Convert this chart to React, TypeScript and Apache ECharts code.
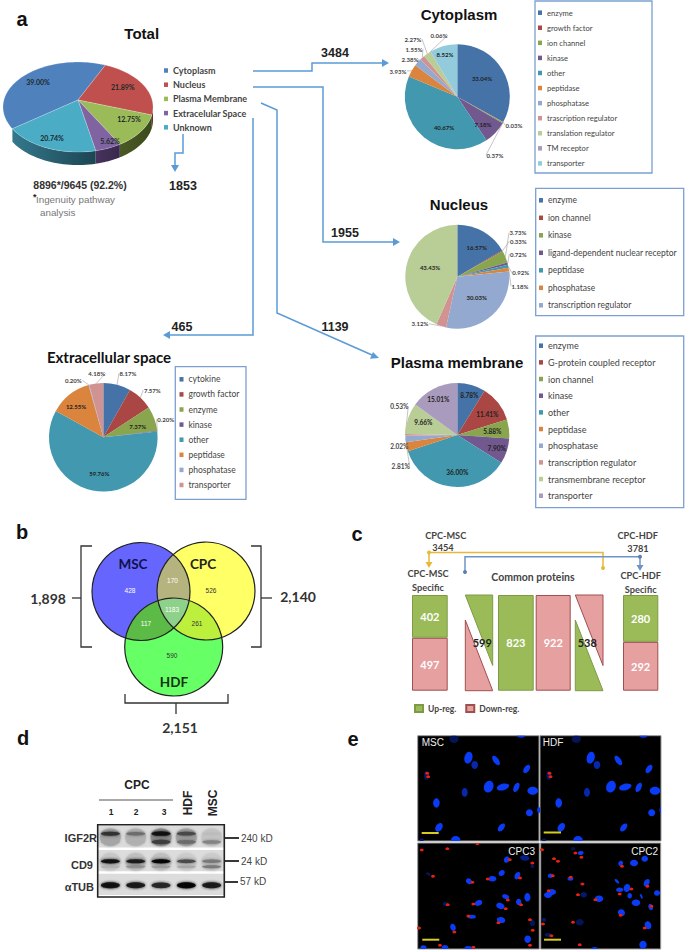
import React, { useEffect, useRef } from "react";
import * as echarts from "echarts";

// ---------- data ----------
const totalCategories = ["Cytoplasm", "Nucleus", "Plasma Membrane", "Extracelular Space", "Unknown"];
const totalValues = [39.0, 21.89, 12.75, 5.62, 20.74];

const cytoplasmNames = ["enzyme", "growth factor", "ion channel", "kinase", "other", "peptidase", "phosphatase", "trascription regulator", "translation regulator", "TM receptor", "transporter"];
const cytoplasmValues = [33.04, 0.03, 0.37, 7.18, 40.67, 3.93, 2.38, 1.55, 2.27, 0.06, 8.52];

const nucleusNames = ["enzyme", "ion channel", "kinase", "ligand-dependent nuclear receptor", "peptidase", "phosphatase", "transcription regulator"];
const nucleusExtraNames = ["unlisted A", "unlisted B"];
const nucleusValues = [16.57, 0.33, 3.73, 0.72, 0.92, 1.18, 30.03, 3.12, 43.43];

const plasmaNames = ["enzyme", "G-protein coupled receptor", "ion channel", "kinase", "other", "peptidase", "phosphatase", "transcription regulator", "transmembrane receptor", "transporter"];
const plasmaValues = [8.78, 11.41, 5.88, 7.9, 36.0, 2.81, 2.02, 0.53, 9.66, 15.01];

const extracellularNames = ["cytokine", "growth factor", "enzyme", "kinase", "other", "peptidase", "phosphatase", "transporter"];
const extracellularValues = [8.17, 7.57, 7.37, 0.2, 59.76, 12.55, 0.2, 4.18];

const vennCounts = { msc: 428, cpc: 526, hdf: 590, mscCpc: 170, mscHdf: 117, cpcHdf: 261, all: 1183 };
const vennTotals = ["1,898", "2,140", "2,151"];

const specificMsc = { up: 402, down: 497 };
const specificHdf = { up: 280, down: 292 };
const commonBars = { up: 823, down: 922 };
const commonMixed = [599, 538];

const blotLanes = ["1", "2", "3", "HDF", "MSC"];
const igf2rUpper = [0.8, 0.55, 0.95, 0.7, 0.2];
const igf2rLower = [0.3, 0.25, 0.75, 0.55, 0.45];
const cd9Main = [0.95, 0.9, 1, 0.7, 0.5];
const cd9Lower = [0.25, 0.4, 0.35, 0.3, 0.5];
const tubulin = [0.95, 0.9, 0.85, 1, 0.9];
const igf2rSmear = [0.32, 0.26, 0.42, 0.34, 0.18];
const cd9Smear = [0.16, 0.2, 0.2, 0.14, 0.14];

const nucleiControl = [
  [36.3, 3.3, 4.7, 4, 0, 0.4], [103.3, 0, 4, 2, 0, 1], [50.7, 22, 4, 6, 15, 1], [57, 29.3, 3.3, 4, 0, 0.8],
  [78.3, 24.7, 2.7, 5.5, -35, 1], [109, 33.3, 2.7, 4.7, 35, 1], [9, 39.7, 2.7, 4.3, 0, 0.45], [71, 51, 4.7, 6, 20, 1],
  [85.3, 51.3, 3.3, 6.3, 75, 1], [98.7, 51.7, 2.7, 5, 25, 1], [115, 55, 5.3, 4, 0, 1], [47, 56.7, 3, 4.3, 0, 0.8],
  [18.7, 67.3, 3.3, 4.7, 0, 1], [111.7, 77, 3.5, 3.5, 0, 1], [121, 74.3, 1.5, 3.3, 0, 1], [21.3, 91.7, 3.3, 4.7, 35, 1],
  [83.7, 91.7, 2.7, 4.7, 40, 1], [38, 104.3, 4.7, 4, 0, 1], [4, 104.3, 2, 1.5, 0, 0.5],
];
const redControl = [[9.5, 37.5], [10.5, 41]];
const nucleiCpc3 = [
  [89, 16.7, 2.7, 3.3, 30, 1], [107, 15, 4.7, 2.7, 10, 0.6], [114.7, 23.3, 2, 2, 0, 0.4], [84, 30, 3.3, 2.7, -35, 1],
  [99.7, 32.7, 2.7, 4, 25, 1], [74.7, 35.7, 4, 2.7, 0, 1], [51.3, 38.3, 3.3, 2.7, 40, 0.9], [10.7, 31, 2.7, 1.3, 30, 0.4],
  [109.7, 54.3, 3, 4.3, 0, 1], [88, 53.7, 3.7, 2.3, 20, 1], [101, 59, 2.7, 3.3, 0, 1], [60.7, 60, 4, 2.7, -20, 1],
  [82.7, 63, 4.3, 3, 20, 1], [28, 61, 2.7, 2, 0, 0.45], [54, 73.7, 4.3, 2, 0, 1], [83.3, 77, 4.3, 3, 10, 1],
  [35.3, 84.3, 2.7, 3.7, -20, 0.9], [114.7, 80, 2.7, 3.3, 0, 0.4], [110, 96.3, 3.3, 3.7, 0, 1], [27.3, 104.3, 3.3, 2.3, 0, 1],
  [5.7, 104.3, 3, 2, 0, 1], [50.7, 105, 4, 2, 0, 1],
];
const redCpc3 = [
  [4, 7], [29.7, 5.7], [59.7, 0.7], [92, 16.7], [114.7, 20], [15.3, 33.3], [54.7, 39.3], [70, 36], [102.3, 35], [30, 61.7],
  [55.7, 61], [90, 57], [88, 65.7], [103.3, 61.7], [50.7, 73], [80.7, 79.7], [112.3, 76.7], [36.7, 89], [22.3, 102.3],
  [112.3, 102.3], [55.7, 104.3], [1.3, 85], [115, 87.3],
];
const nucleiCpc2 = [
  [40, 10, 3, 2, -10, 0.9], [32.3, 5.7, 2.3, 1.7, 0, 0.35], [80, 20.3, 2.3, 2.7, 30, 1], [93.3, 20, 4, 3.3, 0, 1],
  [104, 15.7, 3.3, 3, 0, 1], [9.7, 32.7, 2.7, 2.3, 0, 1], [29.7, 35.7, 3, 2, 0, 1], [76.3, 38.3, 3, 1.3, 45, 1],
  [106, 39.7, 2.7, 4, 30, 1], [42.3, 41, 2.3, 1.7, 0, 0.3], [79, 46.7, 3.7, 2.3, 0, 1], [86.3, 45, 3.3, 4, 20, 1],
  [11.3, 49, 4, 3, 0, 1], [7.3, 52, 4, 3, 0, 1], [43, 51.7, 3.3, 2.7, 0, 0.5], [58.3, 55.7, 4.3, 3.3, 0, 1],
  [89, 52.7, 2.3, 2.7, 0, 1], [100.7, 53.3, 1, 2.7, -20, 1], [116.3, 50, 3, 2.7, 0, 1], [95.3, 59.7, 4.3, 3.3, 0, 1],
  [110, 64, 2.3, 3.3, -20, 1], [80.7, 69.7, 3.7, 3.3, 30, 1], [39, 79.3, 4, 3.3, 0, 0.4], [3.3, 76.7, 2, 2, 0, 0.5],
  [107.3, 82.3, 3.3, 4, -20, 1], [7.3, 91.7, 3.3, 2, 0, 0.45], [102.3, 101.7, 3.7, 4, 0, 1], [54, 105.7, 3.3, 1.7, 0, 1],
  [17.3, 18.3, 2.7, 1.3, 0, 0.35],
];
const redCpc2 = [
  [1.3, 6.7], [13.3, 15.7], [17.3, 18.3], [34.7, 10], [40.7, 14.3], [12, 32.7], [30, 34.3], [41.7, 41], [37.3, 51.7], [8, 47.7],
  [54.7, 56.7], [90.7, 46], [79, 51], [81.3, 23.3], [106.7, 43.3], [110.7, 63.3], [80, 72.3], [32.3, 79.3], [2.3, 81], [104, 85],
  [10.7, 92.7], [39, 101.7],
];

// ---------- styling / layout ----------
const palette = ["#4572A7", "#AA4643", "#89A54E", "#71588F", "#4198AF", "#DB843D", "#93A9CF", "#D19392", "#B9CD96", "#A99BBD", "#92CCDC"];
const SANS = '"Liberation Sans", Arial, sans-serif';
const LATO = 'Lato, "Noto Sans", sans-serif';
const BLUE = "#5b9bd5";

const T = (text: string, x: number, y: number, font: string, fill = "#222", align = "center", extra: any = {}) => ({
  type: "text", z: 100, x, y, silent: true, ...extra,
  style: { text, font, fill, align, verticalAlign: "middle" },
});
const line = (points: number[][], stroke: string, lineWidth = 1.5, z = 100) => ({
  type: "polyline", z, silent: true, shape: { points }, style: { stroke, lineWidth, fill: "none" },
});
const poly = (points: number[][], fill: string, z = 100, stroke?: string, lineWidth = 1) => ({
  type: "polygon", z, silent: true, shape: { points }, style: { fill, stroke, lineWidth },
});
const box = (x: number, y: number, width: number, height: number, stroke = "#7ba0cf", lineWidth = 1.3, fill = "#fff", z = 0) => ({
  type: "rect", z, silent: true, shape: { x, y, width, height }, style: { stroke, lineWidth, fill },
});

function arrowHead(tip: number[], dir: "right" | "left" | "down", size = 5) {
  const [x, y] = tip;
  if (dir === "right") return poly([[x, y], [x - size * 1.4, y - size * 0.8], [x - size * 1.4, y + size * 0.8]], BLUE);
  if (dir === "left") return poly([[x, y], [x + size * 1.4, y - size * 0.8], [x + size * 1.4, y + size * 0.8]], BLUE);
  return poly([[x, y], [x - size * 0.8, y - size * 1.4], [x + size * 0.8, y - size * 1.4]], BLUE);
}

// pie helper: labels placed from a layout table
type PieSpec = {
  names: string[]; values: number[]; center: number[]; r: number;
  labelXY: number[][]; outside: number[]; fontSize?: number;
};
function pieSeries(p: PieSpec) {
  const sum = p.values.reduce((a, b) => a + b, 0);
  const mids: number[] = [];
  let acc = 0;
  p.values.forEach((v) => { mids.push(((acc + v / 2) / sum) * Math.PI * 2); acc += v; });
  return {
    type: "pie", silent: true, center: p.center, radius: p.r, startAngle: 90, clockwise: true,
    avoidLabelOverlap: false, minShowLabelAngle: 0,
    label: {
      show: true, position: "inside", color: "#222", fontFamily: LATO, fontWeight: "bold", fontSize: p.fontSize ?? 6,
      formatter: (d: any) => d.value.toFixed(2) + "%",
    },
    labelLine: { show: false },
    data: p.values.map((value, i) => {
      const out = p.outside.includes(i);
      return {
        name: p.names[i], value, itemStyle: { color: palette[i] },
        label: out ? { position: "outside", color: "#444" } : undefined,
        labelLine: out ? { show: true, length: 6, length2: 4, lineStyle: { color: "#aaa", width: 0.7 } } : undefined,
      };
    }),
    labelLayout: (params: any) => {
      const i = params.dataIndex;
      const [x, y] = p.labelXY[i];
      const res: any = { x, y, align: "center", verticalAlign: "middle", hideOverlap: false };
      if (p.outside.includes(i)) {
        const a = mids[i];
        const rim = [p.center[0] + p.r * Math.sin(a), p.center[1] - p.r * Math.cos(a)];
        const side = x > p.center[0] ? -9 : 9;
        const end = [x + side, y];
        res.labelLinePoints = [rim, [(rim[0] + end[0]) / 2, (rim[1] + end[1]) / 2], end];
      }
      return res;
    },
  };
}

function legendFor(names: string[], left: number, firstY: number, step: number, fontSize: number, weight: any = "normal", color = "#444", swatch = 4) {
  const rowH = 10;
  return {
    show: true, orient: "vertical", left, top: firstY - rowH / 2, padding: 0, itemGap: step - rowH,
    itemWidth: swatch, itemHeight: swatch + 0.5, selectedMode: false,
    data: names.map((name, i) => ({ name, icon: "rect", itemStyle: { color: palette[i] } })),
    textStyle: { fontFamily: LATO, fontSize, fontWeight: weight, color, lineHeight: rowH },
  };
}

// 3-D "Total" pie
const totalTop = ["#4F81BD", "#C0504D", "#9BBB59", "#8064A2", "#4BACC6"];
const totalWall = [
  null, ["#6e2a28", "#6e2a28"], ["#4a5a24", "#3c4a1c"], ["#47335e", "#39284c"], ["#34788c", "#1c4552"],
];
const totalLabelXY = [[38, 82], [122.7, 87], [129, 119], [110, 141], [52, 138]];
const PIE3D = { ax: 78, ay: 100, cx: 78, cy: 107, rx: 75, ry: 45, depth: 13, start: 241 };
const pt = (deg: number, dy = 0) => {
  const t = (deg * Math.PI) / 180;
  return [PIE3D.cx + PIE3D.rx * Math.sin(t), PIE3D.cy - PIE3D.ry * Math.cos(t) + dy];
};
function totalSlice(index: number) {
  const sum = totalValues.reduce((a, b) => a + b, 0);
  return {
    type: "custom", name: totalCategories[index], coordinateSystem: "none", silent: true, data: [[totalValues[index]]],
    renderItem: (_: any, api: any) => {
      const before = totalValues.slice(0, index).reduce((a, b) => a + b, 0);
      const a0 = PIE3D.start + (before / sum) * 360;
      const a1 = a0 + (api.value(0) / sum) * 360;
      const children: any[] = [];
      const wall = totalWall[index];
      if (wall) {
        [[90, 270], [450, 630]].forEach(([lo, hi]) => {
          const s = Math.max(a0, lo), e = Math.min(a1, hi);
          if (e > s) {
            const pts: number[][] = [];
            for (let k = 0; k <= 30; k++) pts.push(pt(s + ((e - s) * k) / 30));
            for (let k = 30; k >= 0; k--) pts.push(pt(s + ((e - s) * k) / 30, PIE3D.depth));
            children.push({
              type: "polygon", shape: { points: pts },
              style: {
                fill: {
                  type: "linear", x: 0, y: 0, x2: 1, y2: 0,
                  colorStops: [{ offset: 0, color: wall[0] }, { offset: 1, color: wall[1] }],
                },
              },
            });
          }
        });
      }
      const top: number[][] = [[PIE3D.ax, PIE3D.ay]];
      for (let k = 0; k <= 60; k++) top.push(pt(a0 + ((a1 - a0) * k) / 60));
      children.push({ type: "polygon", z2: 2, shape: { points: top }, style: { fill: totalTop[index], stroke: "rgba(255,255,255,0.35)", lineWidth: 0.6 } });
      children.push({
        type: "text", z2: 10, x: totalLabelXY[index][0], y: totalLabelXY[index][1],
        style: { text: api.value(0).toFixed(2) + "%", font: `bold 7px ${LATO}`, fill: "#1c2a2a", align: "center", verticalAlign: "middle" },
      });
      return { type: "group", children };
    },
  };
}

// Venn helper
const vennCircles = { m: { x: 141, y: 591.5 }, c: { x: 206, y: 591 }, h: { x: 173.7, y: 647 } };
const VENN_R = 49;
function inside(p: number[], c: { x: number; y: number }) {
  return Math.hypot(p[0] - c.x, p[1] - c.y) <= VENN_R + 0.01;
}
function region(circles: { x: number; y: number }[]) {
  const pts: number[][] = [];
  circles.forEach((c) => {
    for (let k = 0; k < 720; k++) {
      const t = (k / 720) * Math.PI * 2;
      const p = [c.x + VENN_R * Math.cos(t), c.y + VENN_R * Math.sin(t)];
      if (circles.every((o) => o === c || inside(p, o))) pts.push(p);
    }
  });
  const mx = pts.reduce((a, p) => a + p[0], 0) / pts.length;
  const my = pts.reduce((a, p) => a + p[1], 0) / pts.length;
  return pts.sort((a, b) => Math.atan2(a[1] - my, a[0] - mx) - Math.atan2(b[1] - my, b[0] - mx));
}

export default function App() {
  const ref = useRef<HTMLDivElement>(null);
  useEffect(() => {
    document.body.style.margin = "0";
    const chart = echarts.init(ref.current!, undefined, { renderer: "svg" });

    const grids: any[] = [], xAxes: any[] = [], yAxes: any[] = [];
    const addGrid = (rect: any, x: any, y: any) => {
      const gridIndex = grids.length;
      grids.push({ ...rect, containLabel: false });
      xAxes.push({ gridIndex, show: false, ...x });
      yAxes.push({ gridIndex, show: false, splitLine: { show: false }, ...y });
      return gridIndex;
    };

    const series: any[] = [];
    totalValues.forEach((_, i) => series.push(totalSlice(i)));

    series.push(pieSeries({
      names: cytoplasmNames, values: cytoplasmValues, center: [457.3, 96.7], r: 52.5, outside: [1, 2, 5, 6, 7, 8, 9],
      labelXY: [[482, 78], [514, 125], [495, 155], [483, 124], [444, 127], [398, 71], [410, 59], [414, 49], [413, 39], [439, 35], [445, 54]],
    }));
    series.push(pieSeries({
      names: [...nucleusNames, ...nucleusExtraNames], values: nucleusValues, center: [457.3, 276.7], r: 52, outside: [1, 2, 3, 4, 5, 7],
      labelXY: [[476.7, 247.3], [518.3, 241.3], [518, 232.7], [518.3, 254], [520.7, 272.7], [520, 286], [476.7, 297.7], [420, 323.7], [430, 267.3]],
    }));
    series.push(pieSeries({
      names: plasmaNames, values: plasmaValues, center: [457.3, 435], r: 52, outside: [5, 6, 7], fontSize: 6.5,
      labelXY: [[469.3, 395], [487.3, 414], [492.3, 431.7], [496.7, 448.3], [457.3, 472.3], [400.7, 466.3], [399.3, 446], [399.3, 406.3], [423.3, 422.3], [438.3, 399.3]],
    }));
    series.push(pieSeries({
      names: extracellularNames, values: extracellularValues, center: [103.3, 437.3], r: 54.3, outside: [0, 1, 3, 6, 7],
      labelXY: [[128, 373.3], [152.3, 390], [137.7, 426.7], [165.7, 419.3], [99.3, 473.3], [76, 406.3], [73.3, 380.3], [96.7, 373.3]],
    }));

    // Panel c: bars
    const GREEN = "#9BBB59", PINK = "#E6A0A0", GB = "#7f9a45", PB = "#a04f4f";
    const barLabel = { show: true, position: "inside", color: "#fff", fontWeight: "bold", fontSize: 11, fontFamily: LATO };
    const barSeries = (name: string, value: number, g: number) => ({
      type: "bar", name, silent: true, xAxisIndex: g, yAxisIndex: g, stack: "grid" + g, barWidth: "100%",
      data: [value], label: barLabel,
      itemStyle: name === "Up-reg." ? { color: GREEN, borderColor: GB, borderWidth: 1 } : { color: PINK, borderColor: PB, borderWidth: 1 },
    });
    const catX = (c: string) => ({ type: "category", data: [c] });
    const g1 = addGrid({ left: 412, top: 595, width: 35.7, height: 95.7 }, catX("CPC-MSC Specific"), { type: "value", min: 0, max: specificMsc.up + specificMsc.down });
    series.push(barSeries("Down-reg.", specificMsc.down, g1), barSeries("Up-reg.", specificMsc.up, g1));
    const g2 = addGrid({ left: 498, top: 595, width: 35.7, height: 95.7 }, catX("Common up"), { type: "value", min: 0, max: commonBars.up });
    series.push(barSeries("Up-reg.", commonBars.up, g2));
    const g3 = addGrid({ left: 535.7, top: 595, width: 35, height: 95.7 }, catX("Common down"), { type: "value", min: 0, max: commonBars.down });
    series.push(barSeries("Down-reg.", commonBars.down, g3));
    const g4 = addGrid({ left: 623, top: 595, width: 35.3, height: 95.7 }, catX("CPC-HDF Specific"), { type: "value", min: 0, max: specificHdf.up + specificHdf.down });
    series.push(barSeries("Down-reg.", specificHdf.down, g4), barSeries("Up-reg.", specificHdf.up, g4));

    // Panel c: split triangles
    const triangles = [
      { x0: 465.3, x1: 492.7, upRight: true, lx: 482.3 },
      { x0: 575.3, x1: 603, upRight: false, lx: 587.3 },
    ];
    series.push({
      type: "custom", coordinateSystem: "none", silent: true, data: commonMixed.map((v) => [v]),
      renderItem: (p: any, api: any) => {
        const t = triangles[p.dataIndex];
        const topTri = [[t.x0, 595], [t.x1, 595], [t.x1, 665.5]];
        const botTri = [[t.x0, 620], [t.x0, 690.7], [t.x1, 690.7]];
        const a = { fill: t.upRight ? GREEN : PINK, stroke: t.upRight ? GB : PB, lineWidth: 1 };
        const b = { fill: t.upRight ? PINK : GREEN, stroke: t.upRight ? PB : GB, lineWidth: 1 };
        return {
          type: "group", children: [
            { type: "polygon", shape: { points: topTri }, style: a },
            { type: "polygon", shape: { points: botTri }, style: b },
            { type: "text", z2: 5, x: t.lx, y: 642.3, style: { text: String(api.value(0)), font: `bold 11px ${LATO}`, fill: "#222", align: "center", verticalAlign: "middle" } },
          ],
        };
      },
    });

    // Panel d: western blot
    const blotY: any = { igfTop: 9, igfLow: 17.3, igfSmear: 12.5, cd9: 36.6, cd9Low: 42, cd9Smear: 37, tub: 60.6 };
    const blotGrid = addGrid({ left: 97.7, top: 824.7, width: 126.6, height: 72.3 },
      { type: "category", data: blotLanes }, { type: "value", min: 0, max: 72.3, inverse: true });
    const bands: any[] = [];
    const pushBand = (vals: number[], key: string, thick: number) => vals.forEach((v, i) => bands.push([i, blotY[key], v, thick]));
    pushBand(igf2rSmear, "igfSmear", 9);
    pushBand(cd9Smear, "cd9Smear", 9);
    pushBand(igf2rUpper, "igfTop", 1.8);
    pushBand(igf2rLower, "igfLow", 2);
    pushBand(cd9Lower, "cd9Low", 1.5);
    pushBand(cd9Main, "cd9", 1.8);
    pushBand(tubulin, "tub", 2.6);
    const strips = [[1.3, 21.5], [25.3, 21.3], [49, 21.3]];
    series.push({
      type: "custom", coordinateSystem: "cartesian2d", xAxisIndex: blotGrid, yAxisIndex: blotGrid, silent: true, clip: true,
      data: bands,
      renderItem: (_: any, api: any) => {
        const [x, y] = api.coord([api.value(0), api.value(1)]);
        const v = api.value(2);
        const thick = api.value(3);
        const g = Math.round(235 * (1 - v));
        const c = `rgb(${g},${g},${g})`;
        return {
          type: "ellipse", shape: { cx: x, cy: y, rx: thick > 5 ? 10.5 : 9.5, ry: thick > 5 ? thick : thick * (0.7 + v * 0.5) },
          style: { fill: c, shadowBlur: 3, shadowColor: c, opacity: thick > 5 ? 0.75 : 0.92 },
        };
      },
    });

    // Panel e: micrographs (nuclei first, red marks on top)
    const panelE = [
      { left: 417.7, top: 735.7, w: 121.3, h: 105.3, nuclei: nucleiControl, red: redControl },
      { left: 540, top: 735.7, w: 121, h: 105.3, nuclei: nucleiControl, red: redControl },
      { left: 417.7, top: 843, w: 121.6, h: 106, nuclei: nucleiCpc3, red: redCpc3 },
      { left: 540.7, top: 843, w: 120, h: 106, nuclei: nucleiCpc2, red: redCpc2 },
    ];
    panelE.forEach((pn) => {
      const g = addGrid({ left: pn.left, top: pn.top, width: pn.w, height: pn.h, show: true, backgroundColor: "#000", borderColor: "#999", borderWidth: 1 },
        { type: "value", min: 0, max: pn.w }, { type: "value", min: 0, max: pn.h, inverse: true });
      series.push({
        type: "custom", coordinateSystem: "cartesian2d", xAxisIndex: g, yAxisIndex: g, silent: true, clip: true, data: pn.nuclei,
        renderItem: (_: any, api: any) => {
          const [x, y] = api.coord([api.value(0), api.value(1)]);
          const b = api.value(5);
          const fill = b >= 0.9 ? "#0b3cf5" : `rgb(${Math.round(10 * b)},${Math.round(50 * b)},${Math.round(215 * b)})`;
          return {
            type: "ellipse", x, y, rotation: (-api.value(4) * Math.PI) / 180,
            shape: { cx: 0, cy: 0, rx: api.value(2), ry: api.value(3) }, style: { fill },
          };
        },
      });
      series.push({
        type: "custom", coordinateSystem: "cartesian2d", xAxisIndex: g, yAxisIndex: g, silent: true, clip: true, data: pn.red,
        renderItem: (_: any, api: any) => {
          const [x, y] = api.coord([api.value(0), api.value(1)]);
          return { type: "ellipse", x, y, shape: { cx: 0, cy: 0, rx: 1.9, ry: 1.3 }, style: { fill: "#e8200e", shadowBlur: 1.5, shadowColor: "#a01000" } };
        },
      });
    });

    // ---------- graphics ----------
    const v = vennCircles;
    const vennText = (s: number, x: number, y: number, fill: string) => T(String(s), x, y, `6.5px ${SANS}`, fill);
    const graphics: any[] = [
      // panel letters
      T("a", 22, 19, `bold 20px ${SANS}`, "#111"),
      T("b", 22, 532, `bold 20px ${SANS}`, "#111"),
      T("c", 357, 534, `bold 20px ${SANS}`, "#111"),
      T("d", 23, 738, `bold 20px ${SANS}`, "#111"),
      T("e", 353, 739, `bold 20px ${SANS}`, "#111"),
      // titles
      T("Total", 141.7, 33, `bold 15px ${SANS}`, "#111"),
      T("Cytoplasm", 459, 14, `bold 15px ${SANS}`, "#111"),
      T("Nucleus", 459, 204, `bold 15px ${SANS}`, "#111"),
      T("Plasma membrane", 457, 362, `bold 15px ${SANS}`, "#111"),
      T("Extracellular space", 109, 357, `bold 15px ${LATO}`, "#111"),
      // total notes
      T("8896*/9645 (92.2%)", 80, 185, `bold 10.5px ${SANS}`, "#333"),
      T("*", 33, 197, `bold 9px ${SANS}`, "#222", "left"),
      T("Ingenuity pathway", 36, 199, `9.8px ${SANS}`, "#777", "left"),
      T("analysis", 40, 212, `9.8px ${SANS}`, "#777", "left"),
      // counts
      T("3484", 335, 53, `bold 12.5px ${SANS}`, "#222"),
      T("1955", 345, 233, `bold 12.5px ${SANS}`, "#222"),
      T("1139", 335, 327, `bold 12.5px ${SANS}`, "#222"),
      T("465", 182, 327, `bold 12.5px ${SANS}`, "#222"),
      T("1853", 183, 186, `bold 12.5px ${SANS}`, "#222"),
      // arrows
      line([[253, 71], [312, 71], [312, 63], [384, 63]], BLUE), arrowHead([389, 63], "right"),
      line([[253, 87], [323, 87], [323, 242], [394, 242]], BLUE), arrowHead([400, 242], "right"),
      line([[261, 103], [277, 110], [277, 313], [372, 355]], BLUE),
      poly([[379, 358], [370, 358.8], [373, 352]], BLUE),
      line([[253, 118], [253, 335], [170, 335]], BLUE), arrowHead([163, 335], "left"),
      line([[183, 134], [183, 153], [175, 153], [175, 166]], BLUE), arrowHead([175, 172], "down"),
      // legend boxes
      box(535, 1, 117, 172),
      box(535.7, 188.3, 148, 127.4),
      box(535.7, 336, 148, 171.7),
      box(175.3, 366.7, 70.7, 132.6),
      // Venn
      { type: "circle", z: 90, silent: true, shape: { cx: v.m.x, cy: v.m.y, r: VENN_R }, style: { fill: "#6666ff" } },
      { type: "circle", z: 90, silent: true, shape: { cx: v.c.x, cy: v.c.y, r: VENN_R }, style: { fill: "#ffff66" } },
      { type: "circle", z: 90, silent: true, shape: { cx: v.h.x, cy: v.h.y, r: VENN_R }, style: { fill: "#66ff66" } },
      poly(region([v.m, v.c]), "#b6b47e", 91),
      poly(region([v.m, v.h]), "#5cbb46", 91),
      poly(region([v.c, v.h]), "#bcf03c", 91),
      poly(region([v.m, v.c, v.h]), "#8ed18a", 92),
      ...[v.m, v.c, v.h].map((c) => ({ type: "circle", z: 93, silent: true, shape: { cx: c.x, cy: c.y, r: VENN_R }, style: { fill: "none", stroke: "#222", lineWidth: 1.2 } })),
      T("MSC", 133, 564, `bold 13.5px ${LATO}`, "#11114a"),
      T("CPC", 203, 564, `bold 13.5px ${LATO}`, "#222"),
      T("HDF", 174, 682, `bold 13.5px ${LATO}`, "#123312"),
      vennText(vennCounts.msc, 130, 590.5, "#fff"),
      vennText(vennCounts.mscCpc, 172.5, 580, "#fff"),
      vennText(vennCounts.cpc, 211, 590.5, "#333"),
      vennText(vennCounts.all, 172, 609, "#fff"),
      vennText(vennCounts.mscHdf, 146, 623, "#fff"),
      vennText(vennCounts.cpcHdf, 197, 623, "#333"),
      vennText(vennCounts.hdf, 172, 655, "#333"),
      line([[92, 546], [81, 546], [81, 647], [92, 647]], "#333", 1.3),
      line([[72, 598], [81, 598]], "#333", 1.3),
      line([[251, 546], [261, 546], [261, 647], [251, 647]], "#333", 1.3),
      line([[261, 598], [272, 598]], "#333", 1.3),
      line([[125, 694], [125, 703], [228, 703], [228, 694]], "#333", 1.3),
      line([[176, 703], [176, 714]], "#333", 1.3),
      T(vennTotals[0], 48, 598, `bold 14px ${LATO}`, "#333"),
      T(vennTotals[1], 298, 596, `bold 14px ${LATO}`, "#333"),
      T(vennTotals[2], 180, 727, `bold 14px ${LATO}`, "#333"),
      // panel c text and connectors
      T("CPC-MSC", 445.7, 535, `bold 9.2px ${LATO}`, "#444"),
      T("3454", 443, 547.5, `bold 9.2px ${LATO}`, "#444"),
      T("CPC-HDF", 637.7, 535, `bold 9.2px ${LATO}`, "#444"),
      T("3781", 638, 548, `bold 9.2px ${LATO}`, "#444"),
      T("CPC-MSC", 428, 573, `bold 9.2px ${LATO}`, "#444"),
      T("Specific", 428, 587, `bold 9.2px ${LATO}`, "#444"),
      T("Common proteins", 533, 577, `bold 10.5px ${LATO}`, "#444"),
      T("CPC-HDF", 640.7, 575, `bold 9.2px ${LATO}`, "#444"),
      T("Specific", 640.7, 589, `bold 9.2px ${LATO}`, "#444"),
      line([[429, 552.5], [603, 552.5], [603, 568]], "#e6b93a", 1.5),
      line([[429, 552.5], [429, 563]], "#e6b93a", 1.5),
      poly([[429, 568], [425.5, 562], [432.5, 562]], "#e6b93a"),
      { type: "circle", z: 100, silent: true, shape: { cx: 429, cy: 552.5, r: 2 }, style: { fill: "#e6b93a" } },
      { type: "circle", z: 100, silent: true, shape: { cx: 603, cy: 568, r: 2 }, style: { fill: "#e6b93a" } },
      line([[640, 556.7], [465, 556.7], [465, 572]], "#6e94c6", 1.5),
      line([[640, 556.7], [640, 566]], "#6e94c6", 1.5),
      poly([[640, 571], [636.5, 565], [643.5, 565]], "#6e94c6"),
      { type: "circle", z: 100, silent: true, shape: { cx: 640, cy: 556.7, r: 2 }, style: { fill: "#5f7fae" } },
      { type: "circle", z: 100, silent: true, shape: { cx: 465, cy: 572, r: 2 }, style: { fill: "#5f7fae" } },
      // panel d labels
      T("CPC", 137, 785, `bold 12px ${SANS}`, "#222"),
      line([[99, 800], [173, 800]], "#555", 1.2),
      T("1", 111, 812, `bold 8.5px ${SANS}`, "#222"),
      T("2", 136, 812, `bold 8.5px ${SANS}`, "#222"),
      T("3", 164, 812, `bold 8.5px ${SANS}`, "#222"),
      T("HDF", 188, 803, `bold 12px ${SANS}`, "#222", "center", { rotation: Math.PI / 2 }),
      T("MSC", 213, 803, `bold 12px ${SANS}`, "#222", "center", { rotation: Math.PI / 2 }),
      T("IGF2R", 97, 838, `bold 11px ${SANS}`, "#333", "right"),
      T("CD9", 93, 865, `bold 11px ${SANS}`, "#333", "right"),
      T("αTUB", 94, 887, `bold 11px ${SANS}`, "#333", "right"),
      line([[225, 838], [239, 838]], "#222", 1.8),
      line([[225, 861], [239, 861]], "#222", 1.8),
      line([[225, 882], [238, 882]], "#222", 1.8),
      T("240 kD", 241, 838, `10px ${SANS}`, "#444", "left"),
      T("24 kD", 241, 861, `10px ${SANS}`, "#444", "left"),
      T("57 kD", 240, 881, `10px ${SANS}`, "#444", "left"),
      // blot frame and strips (strips sit behind series; frame above)
      ...strips.map(([o, h]) => box(97.7, 824.7 + o, 126.6, h, "none", 0, "#dcdcdc", 0)),
      { type: "rect", z: 100, silent: true, shape: { x: 97.7, y: 824.7, width: 126.6, height: 72.3 }, style: { fill: "none", stroke: "#222", lineWidth: 1.6 } },
      // panel e labels
      T("MSC", 421.7, 742, `10px ${SANS}`, "#eee", "left"),
      T("HDF", 542.7, 742, `10px ${SANS}`, "#eee", "left"),
      T("CPC3", 535, 851, `10px ${SANS}`, "#eee", "right"),
      T("CPC2", 658, 851, `10px ${SANS}`, "#eee", "right"),
      line([[421.7, 833], [438.7, 833]], "#d8cc20", 2),
      line([[543.7, 832.5], [561, 832.5]], "#d8cc20", 2),
      line([[422.3, 939.7], [439.3, 939.7]], "#d8cc20", 2),
      line([[544, 939.7], [561, 939.7]], "#d8cc20", 2),
    ];

    chart.setOption({
      animation: false,
      backgroundColor: "#fff",
      grid: grids, xAxis: xAxes, yAxis: yAxes,
      legend: [
        {
          ...legendFor(totalCategories, 164, 70.5, 14.2, 9, "bold", "#444"),
          data: totalCategories.map((name, i) => ({ name, icon: "rect", itemStyle: { color: totalTop[i] } })),
        },
        legendFor(cytoplasmNames, 538, 12.7, 15.07, 7.6),
        legendFor(nucleusNames, 539, 200.3, 17.5, 8.5),
        legendFor(plasmaNames, 539, 345.7, 16.67, 9),
        legendFor(extracellularNames, 179.5, 379.3, 15.1, 8.5),
        {
          show: true, orient: "horizontal", left: 414, top: 704, padding: 0, itemGap: 9, itemWidth: 8, itemHeight: 7, selectedMode: false,
          data: [
            { name: "Up-reg.", icon: "rect", itemStyle: { color: GREEN, borderColor: GB } },
            { name: "Down-reg.", icon: "rect", itemStyle: { color: PINK, borderColor: PB } },
          ],
          textStyle: { fontFamily: LATO, fontSize: 8.5, fontWeight: "bold", color: "#444" },
        },
      ],
      graphic: { elements: graphics },
      series,
    });
    return () => chart.dispose();
  }, []);
  return <div ref={ref} style={{ position: "absolute", left: 0, top: 0, width: 685, height: 950 }} />;
}
